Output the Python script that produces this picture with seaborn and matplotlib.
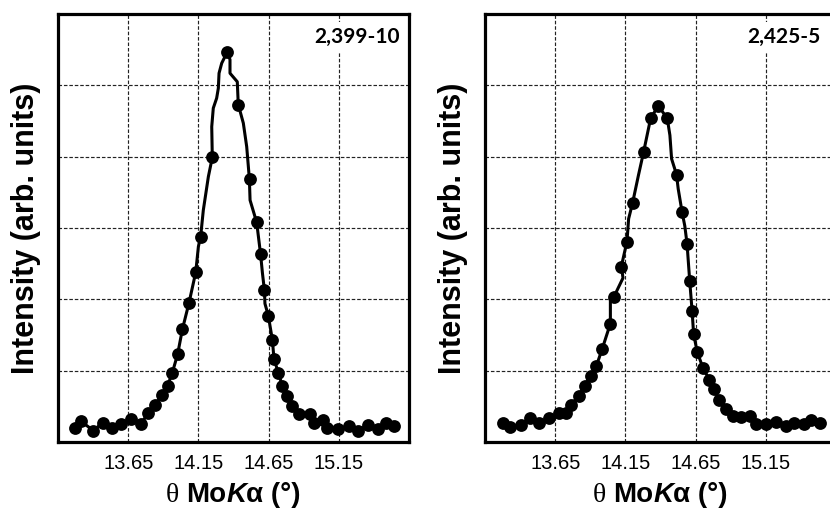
import matplotlib
matplotlib.use("Agg")
import matplotlib.pyplot as plt
import seaborn as sns
from matplotlib.offsetbox import TextArea, HPacker, AnchoredOffsetbox

# ---- sample 2,399-10 -------------------------------------------------------
# measured points (markers)
theta_a = [13.271, 13.314, 13.402, 13.468, 13.532, 13.599, 13.670, 13.741,
           13.789, 13.841, 13.893, 13.931, 13.964, 14.002, 14.036, 14.083,
           14.131, 14.166, 14.249, 14.356, 14.434, 14.517, 14.565, 14.593,
           14.620, 14.648, 14.677, 14.688, 14.719, 14.748, 14.779, 14.819,
           14.869, 14.945, 14.976, 15.040, 15.064, 15.142, 15.225, 15.289,
           15.356, 15.427, 15.484, 15.545]
int_a = [0.19, 0.29, 0.16, 0.27, 0.20, 0.25, 0.32, 0.25,
         0.40, 0.52, 0.66, 0.79, 0.97, 1.23, 1.58, 1.95,
         2.38, 2.88, 3.99, 5.47, 4.73, 3.68, 3.08, 2.63,
         2.13, 1.77, 1.43, 1.17, 0.97, 0.79, 0.65, 0.50,
         0.39, 0.39, 0.26, 0.31, 0.19, 0.18, 0.22, 0.16,
         0.24, 0.18, 0.27, 0.22]
# continuous scan trace
trace_theta_a = [13.271, 13.314, 13.402, 13.468, 13.532, 13.599, 13.670, 13.741,
                 13.789, 13.841, 13.893, 13.931, 13.964, 14.002, 14.036, 14.083,
                 14.131, 14.150, 14.166, 14.185, 14.221, 14.249, 14.245, 14.256,
                 14.280, 14.292, 14.297, 14.316, 14.356, 14.375, 14.375, 14.427,
                 14.434, 14.470, 14.494, 14.513, 14.518, 14.565, 14.593, 14.606,
                 14.620, 14.624, 14.648, 14.677, 14.688, 14.719, 14.748, 14.779,
                 14.819, 14.869, 14.945, 14.976, 15.040, 15.064, 15.142, 15.225,
                 15.289, 15.356, 15.427, 15.484, 15.545]
trace_int_a = [0.19, 0.29, 0.16, 0.27, 0.20, 0.25, 0.32, 0.25,
               0.40, 0.52, 0.66, 0.79, 0.97, 1.23, 1.58, 1.95,
               2.38, 2.74, 2.88, 3.25, 3.72, 3.99, 4.42, 4.68,
               4.82, 4.96, 5.17, 5.31, 5.47, 5.36, 5.17, 5.05,
               4.73, 4.47, 4.14, 3.69, 3.39, 3.08, 2.63, 2.37,
               2.13, 1.94, 1.77, 1.43, 1.17, 0.97, 0.79, 0.65,
               0.50, 0.39, 0.39, 0.26, 0.31, 0.19, 0.18, 0.22,
               0.16, 0.24, 0.18, 0.27, 0.22]

# ---- sample 2,425-5 --------------------------------------------------------
theta_b = [13.278, 13.330, 13.403, 13.471, 13.532, 13.603, 13.674, 13.725,
           13.761, 13.819, 13.860, 13.902, 13.942, 13.984, 14.043, 14.067,
           14.121, 14.161, 14.201, 14.279, 14.330, 14.384, 14.448, 14.514,
           14.554, 14.589, 14.608, 14.625, 14.636, 14.662, 14.702, 14.749,
           14.778, 14.820, 14.867, 14.914, 14.973, 15.036, 15.079, 15.149,
           15.225, 15.291, 15.350, 15.420, 15.474, 15.533]
int_b = [0.26, 0.21, 0.24, 0.33, 0.26, 0.34, 0.40, 0.40,
         0.52, 0.65, 0.79, 0.92, 1.06, 1.30, 1.66, 2.03,
         2.46, 2.81, 3.35, 4.06, 4.54, 4.71, 4.54, 3.75,
         3.22, 2.78, 2.26, 1.84, 1.51, 1.26, 1.04, 0.87,
         0.74, 0.59, 0.46, 0.36, 0.35, 0.36, 0.25, 0.25,
         0.28, 0.23, 0.27, 0.25, 0.31, 0.26]
trace_theta_b = [13.278, 13.330, 13.403, 13.471, 13.532, 13.603, 13.674, 13.725,
                 13.761, 13.819, 13.860, 13.902, 13.942, 13.984, 14.043, 14.043,
                 14.067, 14.133, 14.121, 14.161, 14.173, 14.201, 14.243, 14.279,
                 14.330, 14.384, 14.448, 14.467, 14.479, 14.514, 14.526, 14.554,
                 14.573, 14.589, 14.608, 14.625, 14.636, 14.662, 14.702, 14.749,
                 14.778, 14.820, 14.867, 14.914, 14.973, 15.036, 15.079, 15.149,
                 15.225, 15.291, 15.350, 15.420, 15.474, 15.533]
trace_int_b = [0.26, 0.21, 0.24, 0.33, 0.26, 0.34, 0.40, 0.40,
               0.52, 0.65, 0.79, 0.92, 1.06, 1.30, 1.66, 2.01,
               2.03, 2.30, 2.46, 2.81, 3.13, 3.35, 3.74, 4.06,
               4.54, 4.71, 4.54, 4.30, 3.97, 3.75, 3.55, 3.22,
               3.03, 2.78, 2.26, 1.84, 1.51, 1.26, 1.04, 0.87,
               0.74, 0.59, 0.46, 0.36, 0.35, 0.36, 0.25, 0.25,
               0.28, 0.23, 0.27, 0.25, 0.31, 0.26]

tick_values = [13.65, 14.15, 14.65, 15.15]
tick_labels = ["13.65", "14.15", "14.65", "15.15"]
sample_names = ["2,399-10", "2,425-5"]

sns.set_style("white")
plt.rcParams["font.family"] = ["Liberation Sans", "DejaVu Sans"]
plt.rcParams["text.color"] = "black"
plt.rcParams["axes.labelcolor"] = "black"
plt.rcParams["xtick.color"] = "black"
plt.rcParams["ytick.color"] = "black"

fig = plt.figure(figsize=(8.30, 5.12), dpi=100)
ax_a = fig.add_axes([58 / 830, 70 / 512, 351 / 830, 428 / 512])
ax_b = fig.add_axes([485 / 830, 70 / 512, 351 / 830, 428 / 512])

panels = [
    (ax_a, theta_a, int_a, trace_theta_a, trace_int_a, sample_names[0]),
    (ax_b, theta_b, int_b, trace_theta_b, trace_int_b, sample_names[1]),
]

for ax, mx, my, tx, ty, name in panels:
    sns.lineplot(x=tx, y=ty, ax=ax, color="black", linewidth=2.2,
                 sort=False, estimator=None, zorder=3)
    sns.scatterplot(x=mx, y=my, ax=ax, color="black", s=85,
                    edgecolor="black", linewidth=0, zorder=4)

    ax.set_xlim(13.15, 15.65)
    ax.set_ylim(0, 6)
    ax.set_xticks(tick_values)
    ax.set_xticklabels(tick_labels)
    ax.set_yticks([1, 2, 3, 4, 5, 6])
    ax.set_yticklabels([])
    ax.tick_params(axis="both", length=0)
    ax.tick_params(axis="x", pad=8.5, labelsize=14.5, labelcolor="black")
    ax.grid(True, color="#222222", linewidth=0.85, linestyle=(0, (3.0, 1.6)))
    ax.set_axisbelow(True)
    for sp in ax.spines.values():
        sp.set_visible(True)
        sp.set_color("black")
        sp.set_linewidth(2.3)
        sp.set_zorder(5)

    ax.set_ylabel("Intensity (arb. units)", fontsize=22, fontweight="bold",
                  color="black", labelpad=9)
    ax.set_xlabel("")

    ax.text(0.852, 0.946, name, transform=ax.transAxes, ha="center",
            va="center", fontsize=15, fontweight="bold", family="Lato",
            color="black", zorder=6,
            bbox=dict(facecolor="white", edgecolor="none", pad=3.5))

    # axis title: theta (regular serif) + bold "Mo", bold italic "K", bold "α (°)"
    size = 20
    parts = [
        TextArea("\u03b8 ", textprops=dict(family="Liberation Serif",
                                           size=size, color="black")),
        TextArea("Mo", textprops=dict(family="Liberation Sans", size=size,
                                      weight="bold", color="black")),
        TextArea("K", textprops=dict(family="Liberation Sans", size=size,
                                     weight="bold", style="italic",
                                     color="black")),
        TextArea("\u03b1 (\u00b0)", textprops=dict(family="Liberation Sans",
                                                  size=size, weight="bold",
                                                  color="black")),
    ]
    row = HPacker(children=parts, align="baseline", pad=0, sep=0)
    box = AnchoredOffsetbox(loc="upper center", child=row, pad=0,
                            borderpad=0, frameon=False,
                            bbox_to_anchor=(0.5, -0.093),
                            bbox_transform=ax.transAxes)
    ax.add_artist(box)

fig.savefig("out.png", dpi=100)
